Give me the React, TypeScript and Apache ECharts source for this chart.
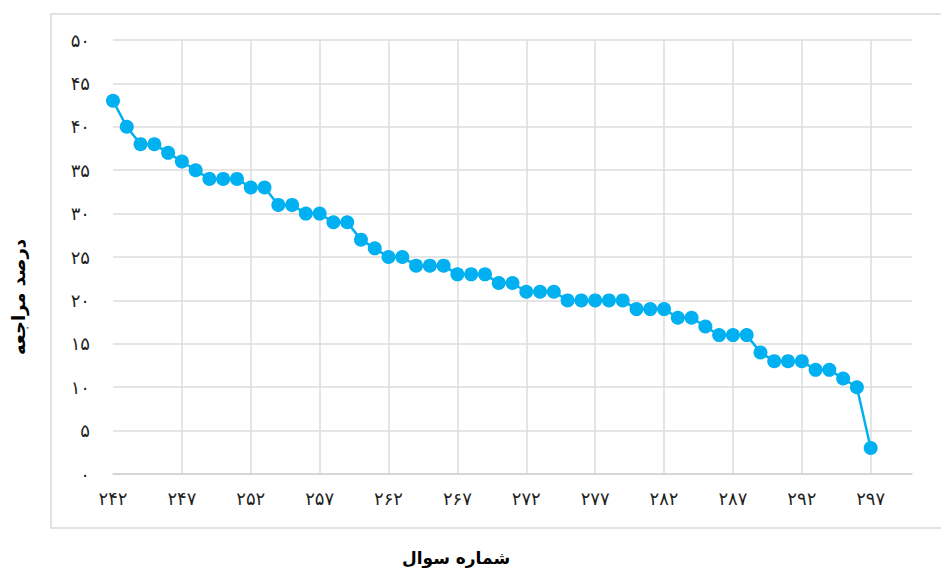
import React, { useEffect, useRef } from "react";
import * as echarts from "echarts";

const categories = [
  "242", "243", "244", "245", "246", "247", "248", "249", "250", "251",
  "252", "253", "254", "255", "256", "257", "258", "259", "260", "261",
  "262", "263", "264", "265", "266", "267", "268", "269", "270", "271",
  "272", "273", "274", "275", "276", "277", "278", "279", "280", "281",
  "282", "283", "284", "285", "286", "287", "288", "289", "290", "291",
  "292", "293", "294", "295", "296", "297", "298", "299", "300",
];

const values = [
  43, 40, 38, 38, 37, 36, 35, 34, 34, 34,
  33, 33, 31, 31, 30, 30, 29, 29, 27, 26,
  25, 25, 24, 24, 24, 23, 23, 23, 22, 22,
  21, 21, 21, 20, 20, 20, 20, 20, 19, 19,
  19, 18, 18, 17, 16, 16, 16, 14, 13, 13,
  13, 12, 12, 11, 10, 3,
];

const yTicks = { min: 0, max: 50, interval: 5 };
const xTitle = "شماره سوال";
const yTitle = "درصد مراجعه";

const faDigits = ["۰", "۱", "۲", "۳", "۴", "۵", "۶", "۷", "۸", "۹"];
const toFa = (s: string | number) =>
  String(s).replace(/[0-9]/g, (d) => faDigits[Number(d)]);

const FONT = "'DejaVu Sans', 'Noto Sans', sans-serif";

export default function App() {
  const ref = useRef<HTMLDivElement>(null);

  useEffect(() => {
    if (!ref.current) return;
    const chart = echarts.init(ref.current, undefined, { renderer: "svg" });
    const showLabel = (idx: number) => idx % 5 === 0 && idx <= 55;
    const showGrid = (idx: number) => idx % 5 === 0 && idx > 0 && idx <= 55;
    chart.setOption({
      animation: false,
      backgroundColor: "#ffffff",
      grid: { left: 113, right: 29, top: 40, bottom: 98, containLabel: false },
      graphic: [
        {
          type: "rect",
          shape: { x: 51, y: 14, width: 920, height: 514 },
          style: { fill: "none", stroke: "#d9d9d9", lineWidth: 1.5 },
          silent: true,
          z: -1,
        },
        {
          type: "text",
          x: 456,
          y: 558,
          style: {
            text: xTitle,
            font: `bold 17px ${FONT}`,
            fill: "#000000",
            align: "center",
            verticalAlign: "middle",
          },
        },
        {
          type: "text",
          x: 18,
          y: 297,
          rotation: Math.PI / 2,
          style: {
            text: yTitle,
            font: `bold 18px ${FONT}`,
            fill: "#000000",
            align: "center",
            verticalAlign: "middle",
          },
        },
      ],
      xAxis: {
        type: "category",
        data: categories,
        boundaryGap: false,
        axisLine: { show: true, lineStyle: { color: "#d0d0d0", width: 1.5 } },
        axisTick: { show: false },
        axisLabel: {
          interval: (idx: number) => showLabel(idx),
          formatter: (v: string) => toFa(v),
          margin: 15,
          color: "#1f1f1f",
          fontSize: 18,
          fontFamily: FONT,
        },
        splitLine: {
          show: true,
          interval: (idx: number) => showGrid(idx),
          lineStyle: { color: "#dcdcdc", width: 1.5 },
        },
      },
      yAxis: {
        type: "value",
        min: yTicks.min,
        max: yTicks.max,
        interval: yTicks.interval,
        axisLine: { show: false },
        axisTick: { show: false },
        axisLabel: {
          formatter: (v: number) => toFa(v),
          margin: 23,
          color: "#1f1f1f",
          fontSize: 18,
          fontFamily: FONT,
        },
        splitLine: { show: true, lineStyle: { color: "#dcdcdc", width: 1.5 } },
      },
      series: [
        {
          type: "line",
          data: values,
          symbol: "circle",
          symbolSize: 14,
          showSymbol: true,
          showAllSymbol: true,
          itemStyle: { color: "#00B0F0" },
          lineStyle: { color: "#00B0F0", width: 2.5 },
        },
      ],
    });
    return () => chart.dispose();
  }, []);

  return (
    <div
      ref={ref}
      style={{ position: "fixed", left: 0, top: 0, width: 941, height: 572 }}
    />
  );
}
